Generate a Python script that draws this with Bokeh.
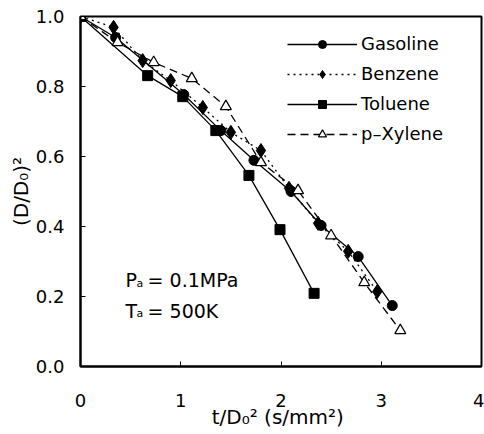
from bokeh.plotting import figure
from bokeh.models import FixedTicker, PrintfTickFormatter, Legend, LegendItem, Label
from bokeh.embed import file_html
from bokeh.resources import INLINE

# Data
gas_x = [0, 0.35, 1.03, 1.40, 1.73, 2.10, 2.40, 2.77, 3.11]
gas_y = [1.0, 0.94, 0.777, 0.674, 0.589, 0.50, 0.403, 0.314, 0.174]

ben_x = [0, 0.33, 0.62, 0.90, 1.22, 1.50, 1.80, 2.08, 2.37, 2.67, 2.96]
ben_y = [1.0, 0.969, 0.874, 0.817, 0.74, 0.669, 0.617, 0.509, 0.409, 0.329, 0.214]

tol_x = [0, 0.67, 1.02, 1.35, 1.68, 1.99, 2.33]
tol_y = [1.0, 0.831, 0.771, 0.674, 0.546, 0.391, 0.209]

xyl_x = [0, 0.37, 0.73, 1.11, 1.45, 1.80, 2.17, 2.50, 2.83, 3.19]
xyl_y = [1.0, 0.926, 0.869, 0.823, 0.743, 0.583, 0.503, 0.374, 0.24, 0.103]

x_ticks = [0, 1, 2, 3, 4]
y_ticks = [0.0, 0.2, 0.4, 0.6, 0.8, 1.0]

FONT = "DejaVu Sans"

p = figure(width=484, height=434, output_backend="svg", toolbar_location=None,
           x_range=(0, 4), y_range=(0, 1.0),
           min_border_left=80, min_border_right=3, min_border_top=16, min_border_bottom=68)
p.background_fill_color = "white"
p.border_fill_color = "white"
p.grid.visible = False
p.outline_line_color = "black"
p.outline_line_width = 2

for ax in (p.xaxis[0], p.yaxis[0]):
    ax.axis_line_width = 2
    ax.axis_line_color = "black"
    ax.major_tick_in = 5
    ax.major_tick_out = 0
    ax.major_tick_line_width = 1
    ax.minor_tick_line_color = None
    ax.major_label_text_font = FONT
    ax.major_label_text_font_size = "18px"
    ax.major_label_text_color = "black"
    ax.axis_label_text_font = FONT
    ax.axis_label_text_font_size = "20px"
    ax.axis_label_text_font_style = "normal"
    ax.axis_label_text_color = "black"

p.xaxis.ticker = FixedTicker(ticks=x_ticks)
p.yaxis.ticker = FixedTicker(ticks=y_ticks)
p.xaxis.formatter = PrintfTickFormatter(format="%d")
p.yaxis.formatter = PrintfTickFormatter(format="%.1f")
p.xaxis.major_label_standoff = 27
p.yaxis.major_label_standoff = 16
p.xaxis.axis_label = "t/D\u2080\u00b2  (s/mm\u00b2)"
p.yaxis.axis_label = "(D/D\u2080)\u00b2"
p.xaxis.axis_label_standoff = -5
p.yaxis.axis_label_standoff = 0

lw = 1.3
g_l = p.line(gas_x, gas_y, line_color="black", line_width=lw)
b_l = p.line(ben_x, ben_y, line_color="black", line_width=lw, line_dash="2 4")
t_l = p.line(tol_x, tol_y, line_color="black", line_width=lw)
x_l = p.line(xyl_x, xyl_y, line_color="black", line_width=lw, line_dash="8 5")

g_s = p.scatter(gas_x, gas_y, marker="circle", size=10, fill_color="black", line_color="black")
b_s = p.scatter(ben_x, ben_y, marker="diamond", size=14, fill_color="black", line_color="black")
t_s = p.scatter(tol_x, tol_y, marker="square", size=10, fill_color="black", line_color="black")
x_s = p.scatter(xyl_x, xyl_y, marker="triangle", size=11, fill_color="white", line_color="black", line_width=1.2)

legend = Legend(items=[
    LegendItem(label="Gasoline", renderers=[g_l, g_s]),
    LegendItem(label="Benzene", renderers=[b_l, b_s]),
    LegendItem(label="Toluene", renderers=[t_l, t_s]),
    LegendItem(label="p\u2013Xylene", renderers=[x_l, x_s]),
], location=(207, 222))
legend.border_line_color = None
legend.background_fill_alpha = 0
legend.padding = 0
legend.margin = 0
legend.spacing = 9
legend.glyph_width = 70
legend.glyph_height = 20
legend.label_height = 20
legend.label_standoff = 4
legend.label_text_font = FONT
legend.label_text_font_size = "18px"
legend.label_text_color = "black"
p.add_layout(legend)

def add_param(sym, sub, rest, y):
    p.add_layout(Label(x=0.45, y=y, text=sym, text_font=FONT, text_font_size="19px",
                       text_baseline="alphabetic", text_color="black"))
    p.add_layout(Label(x=0.45, y=y, x_offset=11, y_offset=-3, text=sub, text_font=FONT,
                       text_font_size="11px", text_baseline="alphabetic", text_color="black"))
    p.add_layout(Label(x=0.45, y=y, x_offset=22, text=rest, text_font=FONT, text_font_size="19px",
                       text_baseline="alphabetic", text_color="black"))

add_param("P", "a", " = 0.1MPa", 0.246)
add_param("T", "a", " = 500K", 0.16)

open("out.html", "w").write(file_html(p, INLINE))
